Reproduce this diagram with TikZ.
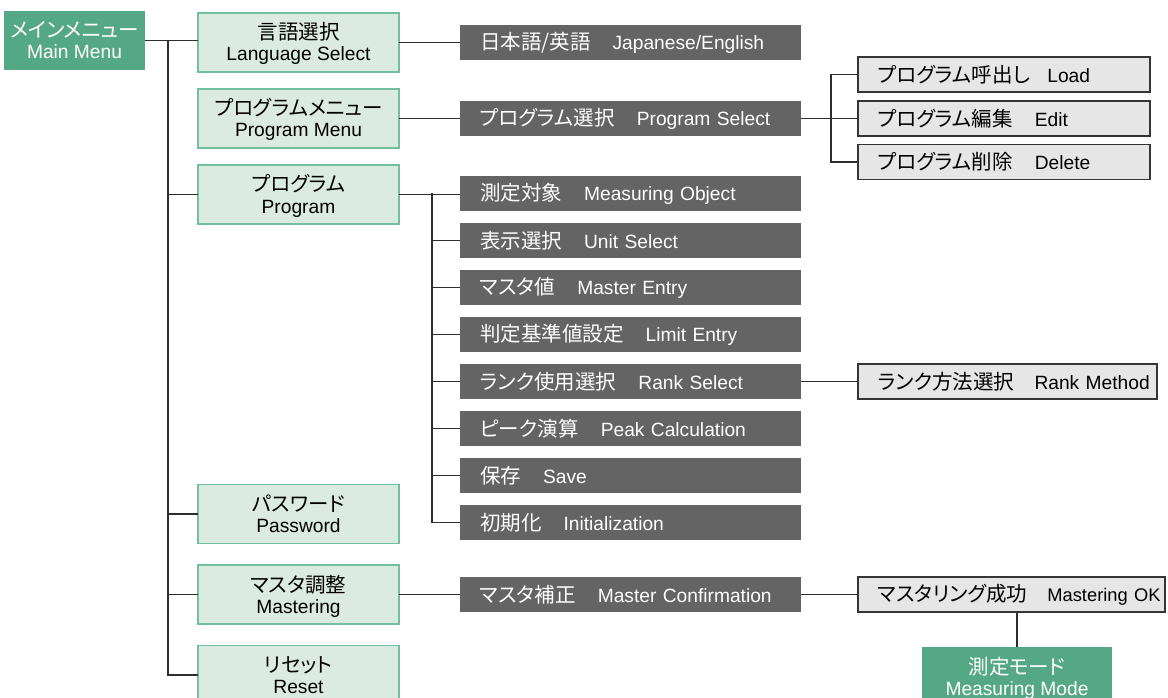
\documentclass[tikz,border=0pt]{standalone}
\usepackage{fontspec}
\setmainfont{Liberation Sans}
\newfontfamily\jpf[RawFeature=+palt]{Noto Sans CJK JP}
\newcommand{\jp}[1]{{\jpf\fontsize{20.5}{21}\selectfont #1}}
\newcommand{\two}[2]{{\jpf\fontsize{20.5}{21}\selectfont\rule{0pt}{27pt}#1}\\#2\rule[-11pt]{0pt}{11pt}}
\definecolor{mmgreen}{HTML}{55A886}
\definecolor{lgfill}{HTML}{DCEBE2}
\definecolor{lgborder}{HTML}{72C09D}
\definecolor{dgray}{HTML}{646464}
\definecolor{gfill}{HTML}{E6E6E6}
\definecolor{gborder}{HTML}{353535}
\definecolor{conn}{HTML}{2E2E2E}
\tikzset{
  base/.style={font=\fontsize{19.2}{21}\selectfont, inner sep=0pt, outer sep=0pt},
  mainbox/.style={base, fill=mmgreen, text=white, align=center},
  lbox/.style={base, fill=lgfill, draw=lgborder, line width=1.5pt, align=center,
    minimum width=201pt, minimum height=59pt},
  dbox/.style={base, fill=dgray, text=white, text width=301pt, inner xsep=20pt,
    minimum height=35pt, align=left},
  gbox/.style={base, fill=gfill, draw=gborder, line width=1.4pt, inner xsep=20pt,
    minimum height=35pt, align=left},
  link/.style={draw=conn, line width=1.3pt}
}
\begin{document}
\begin{tikzpicture}[x=1pt,y=-1pt]
\useasboundingbox (0,0) rectangle (1168,698);
% main menu
\node[mainbox, minimum width=141pt, minimum height=59pt] (mm) at (74.5,40.5) {\two{メインメニュー}{Main Menu}};
% level 1
\node[lbox] (lang) at (298.5,42.5) {\two{言語選択}{Language Select}};
\node[lbox] (pmenu) at (298.5,118.5) {\two{プログラムメニュー}{Program Menu}};
\node[lbox] (prog) at (298.5,194.5) {\two{プログラム}{Program}};
\node[lbox] (pass) at (298.5,514) {\two{パスワード}{Password}};
\node[lbox] (mast) at (298.5,594.5) {\two{マスタ調整}{Mastering}};
\node[lbox] (reset) at (298.5,675) {\two{リセット}{Reset}};
% level 2
\node[dbox] (jpen) at (630.5,42.5) {\jp{日本語/英語}\hspace{1.15em}Japanese/English};
\node[dbox] (psel) at (630.5,118.5) {\jp{プログラム選択}\hspace{1.15em}Program Select};
\node[dbox] (mo) at (630.5,193.5) {\jp{測定対象}\hspace{1.15em}Measuring Object};
\node[dbox] (us) at (630.5,240.5) {\jp{表示選択}\hspace{1.15em}Unit Select};
\node[dbox] (me) at (630.5,287.5) {\jp{マスタ値}\hspace{1.15em}Master Entry};
\node[dbox] (le) at (630.5,334.5) {\jp{判定基準値設定}\hspace{1.15em}Limit Entry};
\node[dbox] (rs) at (630.5,381.5) {\jp{ランク使用選択}\hspace{1.15em}Rank Select};
\node[dbox] (pc) at (630.5,428.5) {\jp{ピーク演算}\hspace{1.15em}Peak Calculation};
\node[dbox] (sv) at (630.5,475.5) {\jp{保存}\hspace{1.15em}Save};
\node[dbox] (ini) at (630.5,522.5) {\jp{初期化}\hspace{1.15em}Initialization};
\node[dbox] (mc) at (630.5,594.5) {\jp{マスタ補正}\hspace{1.15em}Master Confirmation};
% level 3
\node[gbox, text width=252pt] (load) at (1004,74.5) {\mbox{\jp{プログラム呼出し}\hspace{0.9em}Load}};
\node[gbox, text width=252pt] (edit) at (1004,118.5) {\mbox{\jp{プログラム編集}\hspace{1.15em}Edit}};
\node[gbox, text width=252pt] (del) at (1004,162) {\mbox{\jp{プログラム削除}\hspace{1.15em}Delete}};
\node[gbox, text width=259pt] (rm) at (1007.5,381.5) {\mbox{\jp{ランク方法選択}\hspace{1.05em}Rank Method}};
\node[gbox, text width=267pt] (mok) at (1011.5,594.5) {\mbox{\jp{マスタリング成功}\hspace{1.05em}{\fontsize{18.3}{21}\selectfont Mastering OK}}};
\node[mainbox, minimum width=190pt, minimum height=59pt] (mmode) at (1017,676.5) {\two{測定モード}{Measuring Mode}};
% connectors
\coordinate (tr) at (168,0);
\coordinate (st) at (432,0);
\coordinate (ft) at (831,0);
\draw[link] (mm.east) -- (mm.east -| lang.west);
\draw[link] (tr |- mm.east) |- (reset.west);
\draw[link] (tr |- prog.west) -- (prog.west);
\draw[link] (tr |- pass.west) -- (pass.west);
\draw[link] (tr |- mast.west) -- (mast.west);
\draw[link] (lang.east) -- (jpen.west);
\draw[link] (pmenu.east) -- (psel.west);
\draw[link] (prog.east) -- (prog.east -| mo.west);
\draw[link] (st |- mo.west) |- (ini.west);
\foreach \n in {us,me,le,rs,pc,sv} {\draw[link] (st |- \n.west) -- (\n.west);}
\draw[link] (psel.east) -- (edit.west);
\draw[link] (ft |- load.west) |- (del.west);
\draw[link] (ft |- load.west) -- (load.west);
\draw[link] (rs.east) -- (rm.west);
\draw[link] (mast.east) -- (mc.west);
\draw[link] (mc.east) -- (mok.west);
\draw[link] (mok.south -| mmode.north) -- (mmode.north);
\end{tikzpicture}
\end{document}
